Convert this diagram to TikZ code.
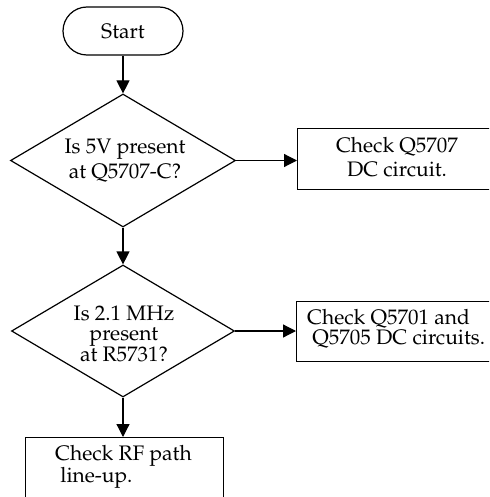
\documentclass[tikz,border=0pt]{standalone}
\usepackage[T1]{fontenc}
\usepackage{mathpazo}
\usetikzlibrary{arrows.meta,shapes.geometric}

\tikzset{
    flow/.style={line width=1.2pt,-{Triangle[length=13pt,width=13pt]}},
    box/.style={draw,line width=1.2pt,anchor=north west,inner sep=0pt},
    query/.style={draw,diamond,line width=1.2pt,inner sep=0pt,minimum width=225pt,minimum height=133pt},
    note/.style={inner sep=0pt,font=\fontsize{21}{24}\selectfont}
}

\begin{document}
\begin{tikzpicture}[x=1pt,y=-1pt]
    \clip (0,0) rectangle (489,497);
    \fill[white] (0,0) rectangle (489,497);

    \node[draw,line width=1.2pt,rounded corners=24pt,minimum width=120pt,minimum height=48pt,
          font=\fontsize{21}{24}\selectfont] (start) at (123,31) {Start};

    \node[query] (q5v) at (123,160.5) {};
    \node[note,align=center,font=\fontsize{21}{25}\selectfont] (q5vtxt) at (125,161) {Is 5V present\\ at Q5707-C?};

    \node[box,minimum width=220pt,minimum height=61pt] (chkA) at (297,128) {};
    \node[note,align=center,font=\fontsize{21}{24}\selectfont] (chkAtxt) at (397,157) {Check Q5707\\ DC circuit.};

    \node[query,minimum width=223pt,minimum height=132pt] (q21) at (123,331) {};
    \node[note,align=center,font=\fontsize{21}{20}\selectfont] (q21txt) at (124,334) {Is 2.1 MHz\\ present\\ at R5731?};

    \node[box,minimum width=220pt,minimum height=60pt] (chkB) at (296,301) {};
    \node[note,align=left,anchor=west,font=\fontsize{21}{19.5}\selectfont] (chkBtxt) at (307,329) {Check Q5701 and\\ \ Q5705 DC circuits.};

    \node[box,minimum width=198pt,minimum height=100pt] (chkRF) at (25,437) {};
    \node[note,align=left,anchor=north west,font=\fontsize{21}{19.5}\selectfont] (chkRFtxt) at (55,445) {Check RF path\\ \ line-up.};

    \draw[flow] (start.south) -- (q5v.north);
    \draw[flow] (q5v.east) -- (chkA.west |- q5v.east);
    \draw[flow] (q5v.south) -- (q21.north);
    \draw[flow] (q21.east) -- (chkB.west |- q21.east);
    \draw[flow] (q21.south) -- (chkRF.north -| q21.south);
\end{tikzpicture}
\end{document}
